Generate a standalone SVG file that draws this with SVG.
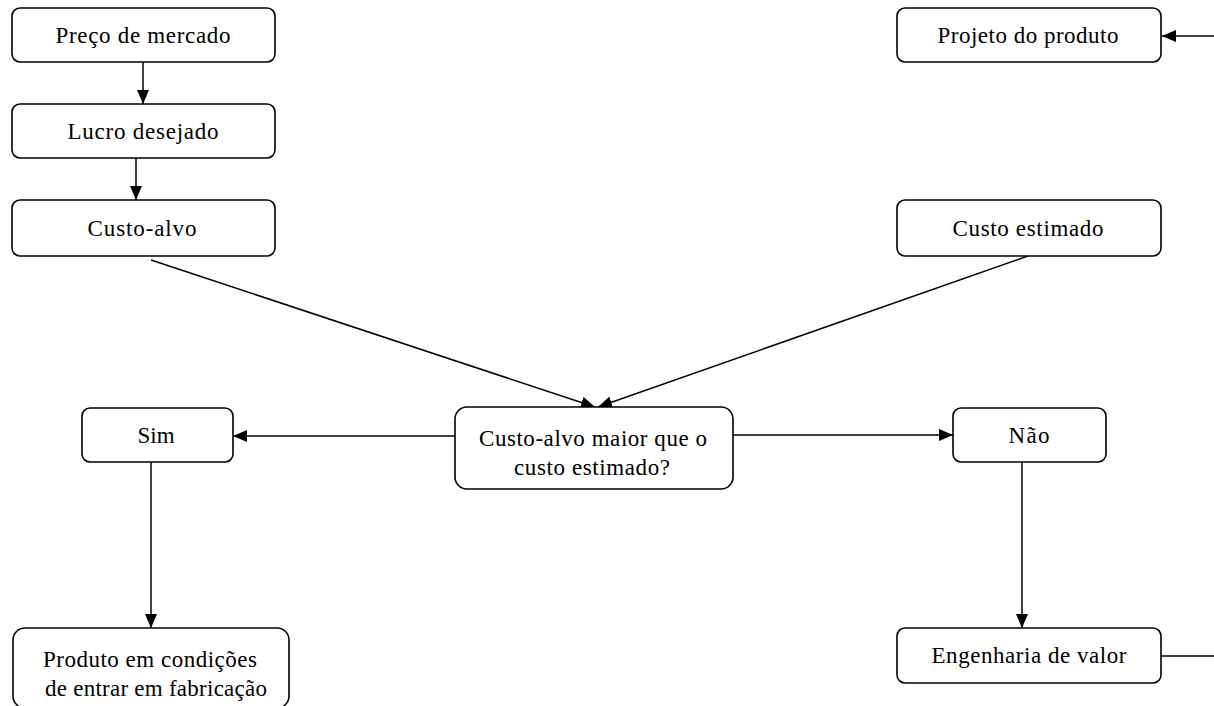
<svg xmlns="http://www.w3.org/2000/svg" width="1214" height="706" viewBox="0 0 1214 706">
<style>
.box{fill:#fff;stroke:#000;stroke-width:1.6}
.t{font-family:"Liberation Serif","Times New Roman",serif;font-size:23px;fill:#000;text-anchor:middle}
.c{fill:none;stroke:#000;stroke-width:1.5}
</style>
<defs>
<marker id="ah" viewBox="0 0 14 12" refX="14" refY="6" markerWidth="14" markerHeight="12" markerUnits="userSpaceOnUse" orient="auto">
<path d="M0,0 L14,6 L0,12 Z" fill="#000"/>
</marker>
</defs>
<rect width="1214" height="706" fill="#fff"/>
<g id="connectors">
<line class="c" x1="143" y1="62" x2="143" y2="104" marker-end="url(#ah)"/>
<line class="c" x1="136" y1="158" x2="136" y2="200" marker-end="url(#ah)"/>
<line class="c" x1="1214" y1="36" x2="1162" y2="36" marker-end="url(#ah)"/>
<line class="c" x1="151" y1="260" x2="595" y2="407" marker-end="url(#ah)"/>
<line class="c" x1="1028" y1="256" x2="598" y2="407" marker-end="url(#ah)"/>
<line class="c" x1="455" y1="436" x2="233" y2="436" marker-end="url(#ah)"/>
<line class="c" x1="733" y1="435" x2="953" y2="435" marker-end="url(#ah)"/>
<line class="c" x1="151" y1="462" x2="151" y2="628" marker-end="url(#ah)"/>
<line class="c" x1="1022" y1="462" x2="1022" y2="628" marker-end="url(#ah)"/>
<line class="c" x1="1161" y1="656" x2="1214" y2="656"/>
</g>
<g id="preco"><rect class="box" x="12" y="8" width="263" height="54" rx="8"/><text class="t" x="143" y="43" textLength="175" lengthAdjust="spacing">Preço de mercado</text></g>
<g id="lucro"><rect class="box" x="12" y="104" width="263" height="54" rx="8"/><text class="t" x="143" y="139" textLength="151" lengthAdjust="spacing">Lucro desejado</text></g>
<g id="custoalvo"><rect class="box" x="12" y="200" width="263" height="56" rx="8"/><text class="t" x="142" y="236" textLength="109" lengthAdjust="spacing">Custo-alvo</text></g>
<g id="projeto"><rect class="box" x="897" y="8" width="264" height="54" rx="8"/><text class="t" x="1028" y="43" textLength="181" lengthAdjust="spacing">Projeto do produto</text></g>
<g id="estimado"><rect class="box" x="897" y="200" width="264" height="56" rx="8"/><text class="t" x="1028" y="236" textLength="151" lengthAdjust="spacing">Custo estimado</text></g>
<g id="decisao"><rect class="box" x="455" y="407" width="278" height="82" rx="12"/><text class="t" x="593" y="446" textLength="228" lengthAdjust="spacing">Custo-alvo maior que o</text><text class="t" x="592" y="475" textLength="156" lengthAdjust="spacing">custo estimado?</text></g>
<g id="sim"><rect class="box" x="82" y="408" width="151" height="54" rx="8"/><text class="t" x="156" y="443">Sim</text></g>
<g id="nao"><rect class="box" x="953" y="408" width="153" height="54" rx="8"/><text class="t" x="1029" y="443" textLength="41" lengthAdjust="spacing">Não</text></g>
<g id="produto"><rect class="box" x="13" y="628" width="276" height="80" rx="12"/><text class="t" x="150" y="667" textLength="214" lengthAdjust="spacing">Produto em condições</text><text class="t" x="156" y="696" textLength="222" lengthAdjust="spacing">de entrar em fabricação</text></g>
<g id="engenharia"><rect class="box" x="897" y="628" width="264" height="55" rx="8"/><text class="t" x="1029" y="663" textLength="195" lengthAdjust="spacing">Engenharia de valor</text></g>
</svg>
